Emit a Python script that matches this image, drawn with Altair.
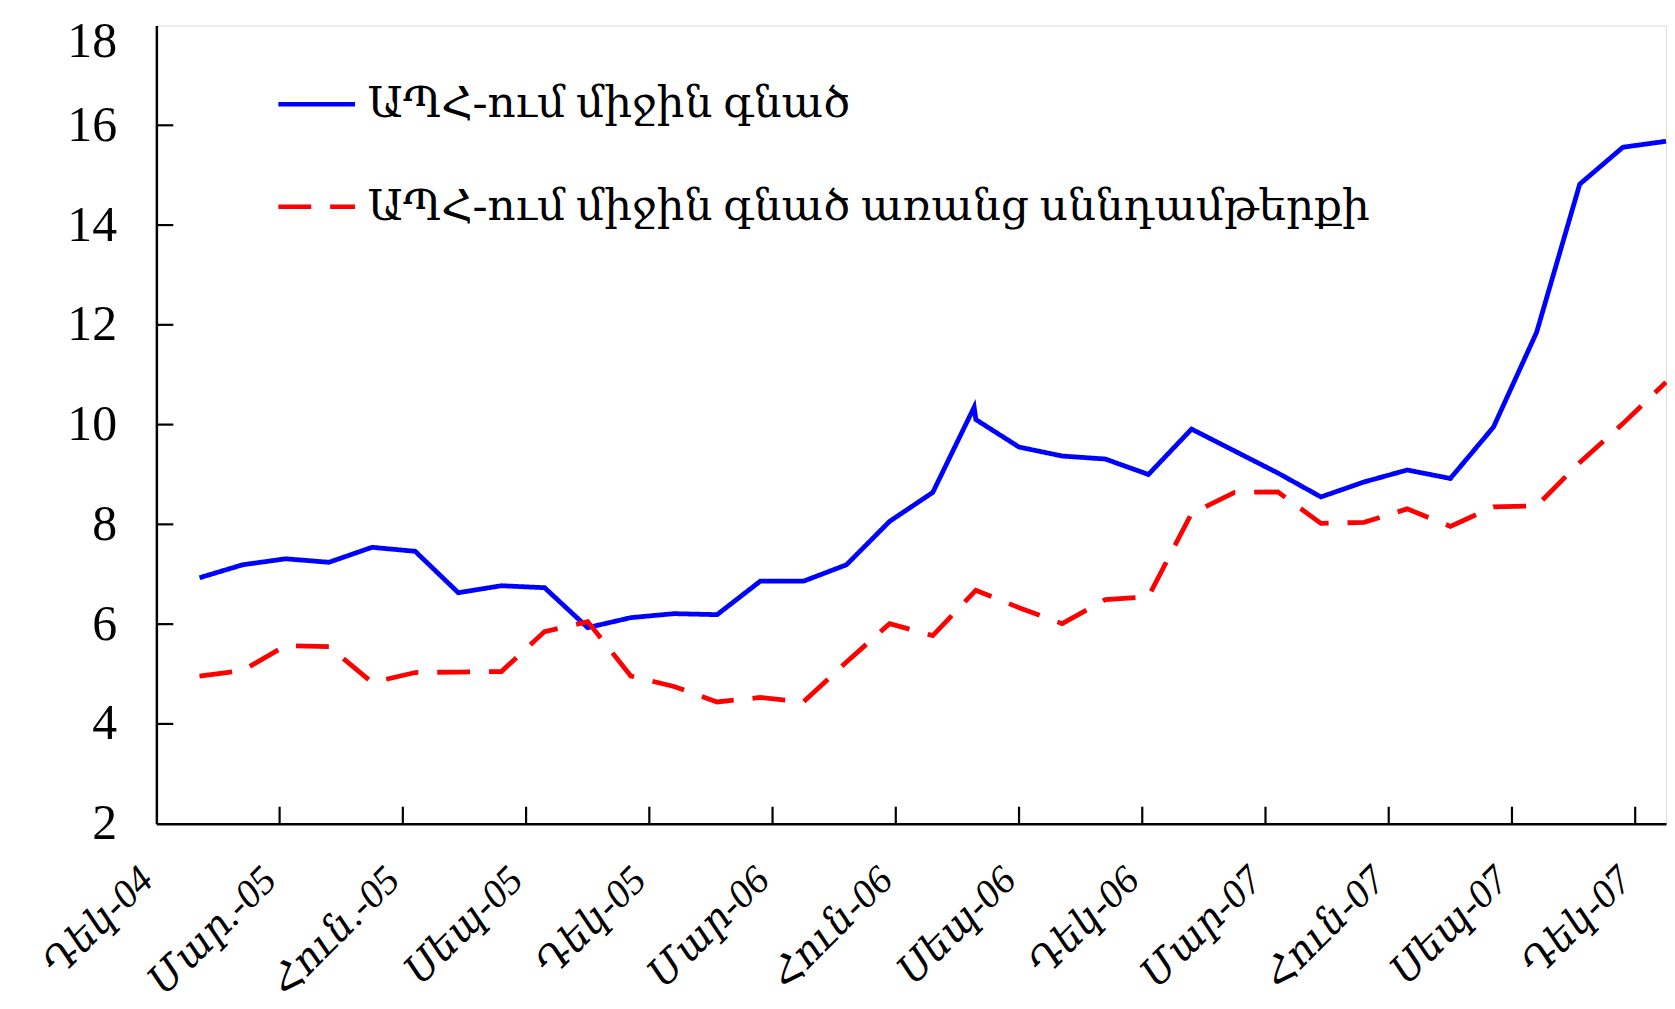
import json
import altair as alt
import pandas as pd

# ---------------- data ----------------
tick_labels = ["Դեկ-04", "Մար.-05", "Հուն.-05", "Սեպ-05", "Դեկ-05", "Մար-06", "Հուն-06",
               "Սեպ-06", "Դեկ-06", "Մար-07", "Հուն-07", "Սեպ-07", "Դեկ-07"]
series_names = ["ԱՊՀ-ում միջին գնած", "ԱՊՀ-ում միջին գնած առանց սննդամթերքի"]

# observation index (the Sep-06 spike has two observations close together)
blue_x = [1, 2, 3, 4, 5, 6, 7, 8, 9, 10, 11, 12, 13, 14, 15, 16, 17, 18, 18.96,
          19, 20, 21, 22, 23, 24, 25, 26, 27, 28, 29, 30, 31, 32, 33, 34, 35]
blue_y = [6.93, 7.19, 7.31, 7.24, 7.54, 7.46, 6.63, 6.77, 6.73, 5.93, 6.13, 6.21,
          6.19, 6.86, 6.86, 7.19, 8.06, 8.64, 10.35, 10.10, 9.55, 9.37, 9.31, 9.00,
          9.91, 9.47, 9.03, 8.55, 8.85, 9.09, 8.92, 9.95, 11.85, 14.82, 15.56, 15.68]

red_x = [1, 2, 3, 4, 5, 6, 7, 8, 9, 10, 11, 12, 13, 14, 15, 16, 17, 18,
         19, 20, 21, 22, 23, 24, 25, 26, 27, 28, 29, 30, 31, 32, 33, 34, 35]
red_y = [4.96, 5.07, 5.57, 5.55, 4.83, 5.03, 5.04, 5.05, 5.85, 6.05, 4.96, 4.75,
         4.44, 4.53, 4.44, 5.24, 6.01, 5.77, 6.68, 6.33, 6.01, 6.49, 6.55, 8.22,
         8.64, 8.65, 8.02, 8.04, 8.31, 7.96, 8.35, 8.37, 9.24, 10.02, 10.85]

x_tick_values = [k * 20 / 7 for k in range(len(tick_labels))]
y_tick_values = [2, 4, 6, 8, 10, 12, 14, 16, 18]

df = pd.concat([
    pd.DataFrame({"x": blue_x, "y": blue_y, "series": series_names[0]}),
    pd.DataFrame({"x": red_x, "y": red_y, "series": series_names[1]}),
], ignore_index=True)
df_xt = pd.DataFrame({"x": x_tick_values[1:]})
df_yt = pd.DataFrame({"y": y_tick_values[1:-1]})

# ---------------- styling ----------------
W, H = 1516, 801.5
FONT = "Liberation Serif, DejaVu Serif, serif"
TICK_LEN = 17

label_expr = json.dumps(tick_labels, ensure_ascii=False) + "[round(datum.value*7/20)]"

x_axis = alt.Axis(values=x_tick_values, labelExpr=label_expr, title=None, grid=False,
                  ticks=False, tickSize=0, domainColor="black", domainWidth=2.5,
                  labelAngle=315, labelAlign="right", labelBaseline="middle",
                  labelPadding=50, labelOffset=-10, labelLimit=500,
                  labelFont=FONT, labelFontSize=40, labelFontStyle="italic",
                  labelColor="black", labelOverlap=False, labelFlush=False)
y_axis = alt.Axis(values=y_tick_values, title=None, grid=False, ticks=False, tickSize=0,
                  domainColor="black", domainWidth=2.5, labelPadding=40,
                  labelOffset={"condition": {"test": "datum.value == 18", "value": 16}, "value": 0},
                  labelFont=FONT, labelFontSize=50, labelColor="black", labelOverlap=False,
                  labelFlush=False)

x_scale = alt.Scale(domain=[0, 35], nice=False, zero=False)
y_scale = alt.Scale(domain=[2, 18], nice=False, zero=False)

legend = alt.Legend(orient="none", legendX=120, legendY=38, title=None,
                    labelFont=FONT, labelFontSize=44, labelColor="black", labelLimit=1500,
                    symbolType="stroke", symbolSize=77 * 77, symbolStrokeWidth=4.5,
                    labelOffset=10, rowPadding=40, padding=0)

lines = alt.Chart(df).mark_line(strokeWidth=4.8, strokeCap="butt").encode(
    x=alt.X("x:Q", scale=x_scale, axis=x_axis),
    y=alt.Y("y:Q", scale=y_scale, axis=y_axis),
    color=alt.Color("series:N", scale=alt.Scale(domain=series_names, range=["#0000ff", "#ff0000"]),
                    legend=legend),
    strokeDash=alt.StrokeDash("series:N", scale=alt.Scale(domain=series_names, range=[[1, 0], [33, 19]]),
                              legend=legend),
    order="x:Q",
)

xticks = alt.Chart(df_xt).mark_rule(color="black", strokeWidth=2.2).encode(
    x=alt.X("x:Q", scale=x_scale, axis=x_axis),
    y=alt.value(H - TICK_LEN), y2=alt.value(H),
)
yticks = alt.Chart(df_yt).mark_rule(color="black", strokeWidth=2.2).encode(
    y=alt.Y("y:Q", scale=y_scale, axis=y_axis),
    x=alt.value(0), x2=alt.value(TICK_LEN),
)

chart = alt.layer(lines, xticks, yticks).properties(
    width=W, height=H,
    autosize=alt.AutoSizeParams(type="none"),
    padding={"left": 149, "top": 15.5, "right": 1, "bottom": 182},
).configure_view(stroke="black", strokeWidth=2).configure(background="white")

chart.save("out.html", embed_options={"renderer": "svg", "actions": False})
